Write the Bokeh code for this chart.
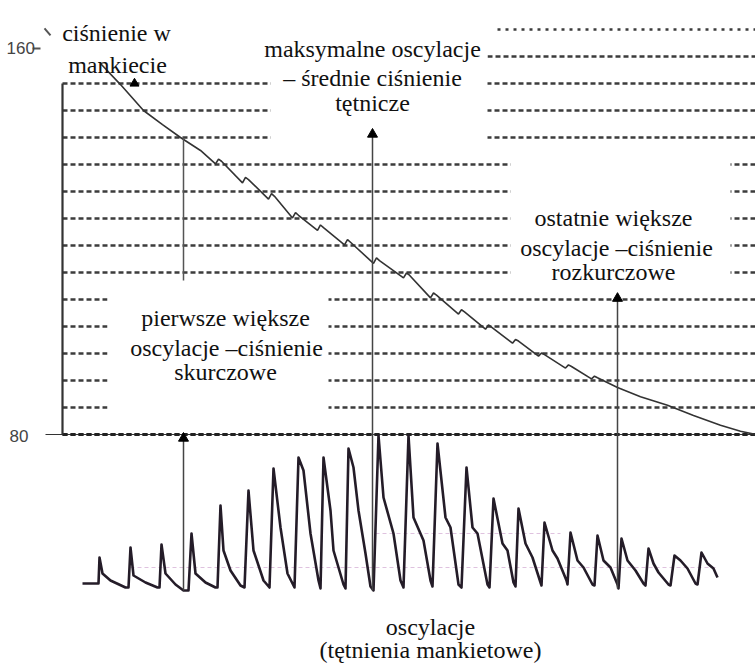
from bokeh.plotting import figure
from bokeh.models import Range1d
from bokeh.core.properties import value
from bokeh.embed import file_html
from bokeh.resources import INLINE

# ---------------- data ----------------
# horizontal pressure levels (mmHg, every 5 mmHg)
grid_p = [80, 85, 90, 95, 100, 105, 110, 115, 120, 125, 130, 135, 140, 145, 150, 155]
grid_t0 = [62] * 14 + [487, 497]
grid_t1 = [755] * 16

# cuff pressure curve (time units, mmHg)
curve_t = [100, 120, 143, 162, 180, 200,
           215, 218, 221,
           242, 245, 248,
           268, 271, 274,
           292, 295, 298,
           317, 320, 323,
           344, 347, 350,
           373, 376, 379,
           403, 406, 409,
           430, 433, 436,
           458, 461, 464,
           485, 488, 491,
           512, 515, 518,
           538, 541, 544,
           565, 568, 571,
           591, 594, 597,
           617, 640, 667, 693, 720, 740, 755]
curve_p = [148.7, 144.8, 140.0, 137.4, 135.0, 132.6,
           130.1, 131.0, 130.6,
           126.6, 127.6, 127.2,
           123.6, 124.6, 124.1,
           120.1, 121.1, 120.6,
           117.8, 118.8, 118.3,
           115.1, 116.1, 115.6,
           111.7, 112.7, 112.2,
           109.0, 109.9, 109.5,
           105.3, 106.2, 105.8,
           102.3, 103.1, 102.7,
           99.5, 100.3, 99.9,
           96.9, 97.6, 97.3,
           94.5, 95.1, 94.8,
           92.3, 92.9, 92.6,
           90.3, 90.8, 90.5,
           88.7, 87.0, 85.4, 83.5, 81.7, 80.6, 80.0]

# oscillation trace (time units, amplitude units above baseline)
osc_t = [82, 97,
         98, 99, 102, 110, 125,
         128, 130, 133, 145, 157,
         159, 161, 165, 175, 183,
         188, 191, 195, 205, 215,
         217, 220, 223, 230, 240, 244,
         248, 253, 263, 269,
         273, 280, 287, 294,
         298, 303, 310, 318, 320,
         323, 330, 333, 343, 345,
         348, 353, 358, 365, 370, 373,
         378, 383, 393, 400, 403,
         408, 413, 423, 430, 432,
         437, 445, 450, 458, 461,
         466, 472, 477, 487, 489,
         493, 502, 507, 513, 515,
         518, 525, 532, 540, 541,
         544, 552, 557, 566, 567,
         570, 577, 583, 592, 594,
         597, 603, 610, 617, 618,
         621, 627, 635, 643, 645,
         648, 653, 658, 668, 670,
         674, 680, 687, 695, 697,
         701, 707, 713, 717]
osc_a = [2, 2,
         2, 28, 12, 5, -2,
         -2, 38, 10, 3, -2,
         -2, 41, 12, 1, -5,
         -5, 52, 12, 3, -2,
         -2, 80, 35, 15, 0, -2,
         95, 35, 5, -2,
         117, 58, 12, -2,
         128, 115, 52, 5, -3,
         128, 75, 35, 1, -3,
         137, 118, 75, 32, -1, -5,
         150, 88, 52, 5, -2,
         150, 68, 45, 5, -1,
         142, 68, 58, 1, -2,
         118, 58, 52, 1, -2,
         87, 42, 35, 3, -1,
         77, 42, 28, 3, 0,
         63, 35, 27, 5, 1,
         53, 25, 18, 1, 0,
         50, 25, 18, 1, -3,
         47, 25, 15, 2, 0,
         37, 22, 13, 1, 0,
         30, 25, 17, 2, 1,
         33, 22, 17, 8]

# vertical markers (first large / max / last large oscillation)
marker_t = [183, 372, 617]
marker_bottom_p = [51.1, 51.1, 51.5]
marker_top_p = [79.3, 135.6, 105.2]

# ---------------- figure ----------------
W, H = 755, 664
p = figure(width=W, height=H, x_range=Range1d(0, 755), y_range=Range1d(37.407, 160.370),
           x_axis_location=None, y_axis_location=None, toolbar_location=None,
           output_backend="svg", min_border=0)
p.extra_y_ranges = {"osc": Range1d(-79, 585)}
p.grid.visible = False
p.outline_line_color = None
p.background_fill_color = "white"
p.border_fill_color = "white"

grid_col = "#3c3c3c"
# dashed levels
p.segment(x0=grid_t0[:15], y0=grid_p[:15], x1=grid_t1[:15], y1=grid_p[:15],
          line_color=grid_col, line_width=2.4, line_dash="5 3")
p.segment(x0=grid_t0[15:], y0=grid_p[15:], x1=grid_t1[15:], y1=grid_p[15:],
          line_color=grid_col, line_width=2.4, line_dash="3 5")
# 80 mmHg base line (solid thin under dashes)
p.segment(x0=[45], y0=[grid_p[0]], x1=[755], y1=[grid_p[0]], line_color="#333333", line_width=1.2)
p.segment(x0=[62], y0=[grid_p[0]], x1=[755], y1=[grid_p[0]], line_color="#222222", line_width=3, line_dash="5 3")

# white label boxes
p.quad(left=[270, 510, 107], right=[487, 730, 328], bottom=[132.6, 107.6, 82.6], top=[161, 132.6, 107.6],
       fill_color="white", line_color=None)

# left vertical line
p.segment(x0=[62], y0=[80], x1=[62], y1=[145], line_color="#333333", line_width=2.2)

# faint pink reference lines in oscillation area
p.segment(x0=[130, 375], y0=[18, 52], x1=[717, 560], y1=[18, 52], y_range_name="osc",
          line_color="#c99ac9", line_width=1, line_dash="4 3", line_alpha=0.6)

# cuff pressure curve
p.line(curve_t, curve_p, line_color="#333333", line_width=1.6)

# oscillation trace
p.line(osc_t, osc_a, y_range_name="osc", line_color="#241c28", line_width=2.6,
       line_join="round")

# vertical marker lines with arrow heads
p.segment(x0=marker_t, y0=marker_bottom_p, x1=marker_t, y1=marker_top_p,
          line_color="#444444", line_width=1.5)
p.segment(x0=[marker_t[0]], y0=[108.5], x1=[marker_t[0]], y1=[135.0],
          line_color="#555555", line_width=1.5)
p.scatter(marker_t, marker_top_p, marker="triangle", size=10, fill_color="black", line_color="black")
p.scatter([134], [145.0], marker="triangle", size=9, fill_color="black", line_color="black")

# small tick marks near "160"
p.segment(x0=[44, 32], y0=[155.2, 151.5], x1=[50, 40], y1=[153.9, 151.5], line_color="#555555", line_width=2)

serif = value("Liberation Serif")
lab_x = [116, 117,
         372, 372, 372,
         613, 616, 613,
         225, 226, 225,
         430, 430]
lab_p = [154.3, 148.5,
         151.3, 146.1, 141.3,
         120.0, 114.6, 110.0,
         101.5, 96.1, 91.5,
         44.4, 40.0]
lab_text = ["ciśnienie w", "mankiecie",
            "maksymalne oscylacje", "– średnie ciśnienie", "tętnicze",
            "ostatnie większe", "oscylacje –ciśnienie", "rozkurczowe",
            "pierwsze większe", "oscylacje –ciśnienie", "skurczowe",
            "oscylacje", "(tętnienia mankietowe)"]
p.text(lab_x, lab_p, text=lab_text, text_font=serif, text_font_size="24px",
       text_align="center", text_baseline="alphabetic", text_color="#111111")

sans = value("Liberation Sans Narrow, Liberation Sans, sans-serif")
p.text([6, 9], [151.5, 79.8], text=["160", "80"], text_font=sans, text_font_size="17px",
       text_align="left", text_baseline="middle", text_color="#444444")

open("out.html", "w").write(file_html(p, INLINE))
